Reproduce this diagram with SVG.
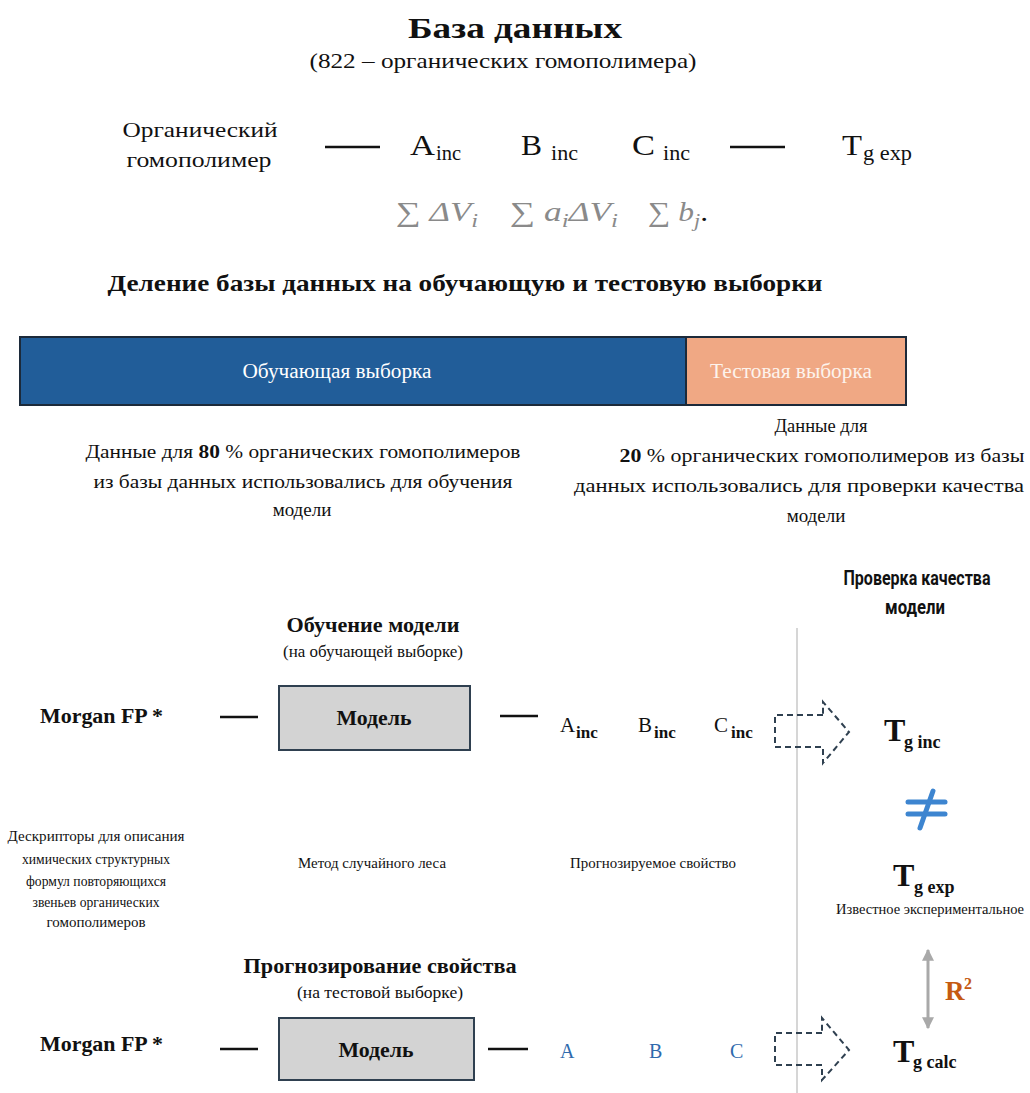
<svg xmlns="http://www.w3.org/2000/svg" width="1030" height="1093" viewBox="0 0 1030 1093">
<style>
text{font-family:"Liberation Serif","Times New Roman",serif;fill:#111}
.b{font-weight:bold}
.c{text-anchor:middle}
.f{fill:#8a8a8a;font-size:27px}
.i{font-style:italic}
.sans{font-family:Roboto,"Liberation Sans",sans-serif;font-weight:700}
.blue{fill:#2f6aad}
.dash{stroke:#111;stroke-width:2.5;fill:none}
.darr{stroke:#2f4050;stroke-width:2;fill:none;stroke-dasharray:6 4}
.box{fill:#d3d3d3;stroke:#2f4050;stroke-width:2}
</style>
<defs>
<marker id="ah" viewBox="0 0 10 10" refX="9" refY="5" markerWidth="4" markerHeight="4" orient="auto-start-reverse">
<path d="M0,0 L10,5 L0,10 z" fill="#a9a9a9"/>
</marker>
</defs>
<rect width="1030" height="1093" fill="#fff"/>

<g id="title">
<text x="515" y="38" class="b c" font-size="30" textLength="214" lengthAdjust="spacingAndGlyphs">База данных</text>
<text x="503" y="68" class="c" font-size="21" textLength="387" lengthAdjust="spacingAndGlyphs">(822 – органических гомополимера)</text>
</g>

<g id="polymer">
<text x="200" y="137" class="c" font-size="22" textLength="155" lengthAdjust="spacingAndGlyphs">Органический</text>
<text x="199" y="167" class="c" font-size="22" textLength="145" lengthAdjust="spacingAndGlyphs">гомополимер</text>
</g>
<g id="descA"><text x="410" y="155" font-size="29" textLength="25" lengthAdjust="spacingAndGlyphs">A</text><text x="436" y="160" font-size="20" textLength="25" lengthAdjust="spacingAndGlyphs">inc</text></g>
<g id="descB"><text x="521" y="155" font-size="29" textLength="21" lengthAdjust="spacingAndGlyphs">B</text><text x="551" y="160" font-size="20" textLength="27" lengthAdjust="spacingAndGlyphs">inc</text></g>
<g id="descC"><text x="632" y="155" font-size="29" textLength="23" lengthAdjust="spacingAndGlyphs">C</text><text x="663" y="160" font-size="20" textLength="27" lengthAdjust="spacingAndGlyphs">inc</text></g>
<g id="tgexp1"><text x="842" y="155" font-size="29" textLength="20" lengthAdjust="spacingAndGlyphs">T</text><text x="863" y="160" font-size="20" textLength="49" lengthAdjust="spacingAndGlyphs">g exp</text></g>

<g id="formulas">
<text x="396" y="221" class="f" textLength="82" lengthAdjust="spacingAndGlyphs"><tspan>∑ </tspan><tspan class="i">ΔV</tspan><tspan class="i" font-size="19" dy="6">i</tspan></text>
<text x="510" y="221" class="f" textLength="108" lengthAdjust="spacingAndGlyphs"><tspan>∑ </tspan><tspan class="i">a</tspan><tspan class="i" font-size="19" dy="6">i</tspan><tspan class="i" dy="-6">ΔV</tspan><tspan class="i" font-size="19" dy="6">i</tspan></text>
<text x="648" y="221" class="f" textLength="60" lengthAdjust="spacingAndGlyphs"><tspan>∑ </tspan><tspan class="i">b</tspan><tspan class="i" font-size="19" dy="6">j</tspan><tspan dy="-6" style="fill:#111">.</tspan></text>
</g>

<g id="heading2">
<text x="465" y="291" class="b c" font-size="24" textLength="715" lengthAdjust="spacingAndGlyphs">Деление базы данных на обучающую и тестовую выборки</text>
</g>

<g id="train-bar">
<rect x="20" y="337" width="666" height="68" fill="#215d99" stroke="#1c2a3a" stroke-width="2"/>
<text x="337" y="378" class="c" font-size="20" style="fill:#fff" textLength="189" lengthAdjust="spacingAndGlyphs">Обучающая выборка</text>
</g>
<g id="test-bar">
<rect x="686" y="337" width="220" height="68" fill="#f0a884" stroke="#1c2a3a" stroke-width="2"/>
<text x="791" y="378" class="c" font-size="20" style="fill:#fdf3ec" textLength="162" lengthAdjust="spacingAndGlyphs">Тестовая выборка</text>
</g>

<g id="train-caption">
<text x="303" y="458" class="c" font-size="19" textLength="435" lengthAdjust="spacingAndGlyphs">Данные для <tspan class="b">80</tspan> % органических гомополимеров</text>
<text x="303" y="488" class="c" font-size="19" textLength="419" lengthAdjust="spacingAndGlyphs">из базы данных использовались для обучения</text>
<text x="302" y="516" class="c" font-size="19">модели</text>
</g>
<g id="test-caption">
<text x="821" y="432" class="c" font-size="19" textLength="93" lengthAdjust="spacingAndGlyphs">Данные для</text>
<text x="822" y="462" class="c" font-size="19" textLength="405" lengthAdjust="spacingAndGlyphs"><tspan class="b">20</tspan> % органических гомополимеров из базы</text>
<text x="799" y="492" class="c" font-size="19" textLength="450" lengthAdjust="spacingAndGlyphs">данных использовались  для  проверки качества</text>
<text x="816" y="522" class="c" font-size="19">модели</text>
</g>

<g id="quality-title">
<text x="917" y="585" class="c sans" font-size="20" textLength="147" lengthAdjust="spacingAndGlyphs">Проверка качества</text>
<text x="915" y="614" class="c sans" font-size="20" textLength="60" lengthAdjust="spacingAndGlyphs">модели</text>
</g>
<line x1="797" y1="628" x2="797" y2="1093" stroke="#c8c8c8" stroke-width="1.5"/>

<g id="training-title">
<text x="373" y="632" class="b c" font-size="21" textLength="173" lengthAdjust="spacingAndGlyphs">Обучение модели</text>
<text x="373" y="657" class="c" font-size="16" textLength="180" lengthAdjust="spacingAndGlyphs">(на обучающей выборке)</text>
</g>
<g id="morgan1"><text x="40" y="723" class="b" font-size="21" textLength="123" lengthAdjust="spacingAndGlyphs">Morgan FP *</text></g>
<g id="model1">
<rect x="279" y="686" width="191" height="64" class="box"/>
<text x="374" y="725" class="b c" font-size="20" textLength="75" lengthAdjust="spacingAndGlyphs">Модель</text>
</g>
<g id="out1">
<text x="560" y="732" font-size="21">A</text><text x="576" y="738" class="b" font-size="17">inc</text>
<text x="638" y="732" font-size="21">B</text><text x="654" y="738" class="b" font-size="17">inc</text>
<text x="714" y="732" font-size="21">C</text><text x="731" y="738" class="b" font-size="17">inc</text>
</g>
<g id="tginc"><text x="884" y="741" class="b" font-size="32">T</text><text x="904" y="748" class="b" font-size="18">g inc</text></g>

<g id="neq" stroke="#3d85d0" stroke-width="5" stroke-linecap="round">
<line x1="908" y1="802" x2="945" y2="802"/>
<line x1="908" y1="814" x2="945" y2="814"/>
<line x1="933" y1="791" x2="920" y2="828"/>
</g>

<g id="tgexp2">
<text x="893" y="886" class="b" font-size="32">T</text><text x="914" y="893" class="b" font-size="18">g exp</text>
<text x="930" y="914" class="c" font-size="15" textLength="188" lengthAdjust="spacingAndGlyphs">Известное экспериментальное</text>
</g>

<g id="labels">
<text x="96" y="841" class="c" font-size="14" textLength="177" lengthAdjust="spacingAndGlyphs">Дескрипторы для описания</text>
<text x="96" y="864" class="c" font-size="14" textLength="148" lengthAdjust="spacingAndGlyphs">химических структурных</text>
<text x="96" y="886" class="c" font-size="14" textLength="140" lengthAdjust="spacingAndGlyphs">формул повторяющихся</text>
<text x="96" y="907" class="c" font-size="14" textLength="127" lengthAdjust="spacingAndGlyphs">звеньев органических</text>
<text x="96" y="927" class="c" font-size="14" textLength="99" lengthAdjust="spacingAndGlyphs">гомополимеров</text>
<text x="372" y="868" class="c" font-size="14" textLength="148" lengthAdjust="spacingAndGlyphs">Метод случайного леса</text>
<text x="653" y="868" class="c" font-size="14" textLength="166" lengthAdjust="spacingAndGlyphs">Прогнозируемое свойство</text>
</g>

<g id="r2"><text x="945" y="1000" class="b" font-size="27" style="fill:#c55a11">R</text><text x="964" y="989" class="b" font-size="16" style="fill:#c55a11">2</text></g>

<g id="predict-title">
<text x="380" y="973" class="b c" font-size="21" textLength="273" lengthAdjust="spacingAndGlyphs">Прогнозирование свойства</text>
<text x="380" y="998" class="c" font-size="16" textLength="166" lengthAdjust="spacingAndGlyphs">(на тестовой выборке)</text>
</g>
<g id="morgan2"><text x="40" y="1051" class="b" font-size="21" textLength="123" lengthAdjust="spacingAndGlyphs">Morgan FP *</text></g>
<g id="model2">
<rect x="279" y="1018" width="195" height="62" class="box"/>
<text x="376" y="1057" class="b c" font-size="20" textLength="75" lengthAdjust="spacingAndGlyphs">Модель</text>
</g>
<g id="out2">
<text x="560" y="1058" class="blue" font-size="20">A</text>
<text x="649" y="1058" class="blue" font-size="20">B</text>
<text x="730" y="1058" class="blue" font-size="20">C</text>
</g>
<g id="tgcalc"><text x="893" y="1062" class="b" font-size="32">T</text><text x="913" y="1068" class="b" font-size="18">g calc</text></g>

<g id="connectors">
<line x1="325" y1="147" x2="380" y2="147" class="dash"/>
<line x1="730" y1="147" x2="785" y2="147" class="dash"/>
<line x1="220" y1="717" x2="258" y2="717" class="dash" stroke-width="2"/>
<line x1="500" y1="716" x2="538" y2="716" class="dash" stroke-width="2"/>
<line x1="220" y1="1049" x2="258" y2="1049" class="dash" stroke-width="2"/>
<line x1="488" y1="1049" x2="528" y2="1049" class="dash" stroke-width="2"/>
<path class="darr" d="M823,715 L775,715 L775,747 L823,747 L823,763 L849,732 L823,702 Z"/>
<path class="darr" d="M822,1033 L775,1033 L775,1065 L822,1065 L822,1080 L849,1050 L822,1018 Z"/>
<line x1="928" y1="950" x2="928" y2="1028" stroke="#a9a9a9" stroke-width="3" marker-start="url(#ah)" marker-end="url(#ah)"/>
</g>
</svg>
